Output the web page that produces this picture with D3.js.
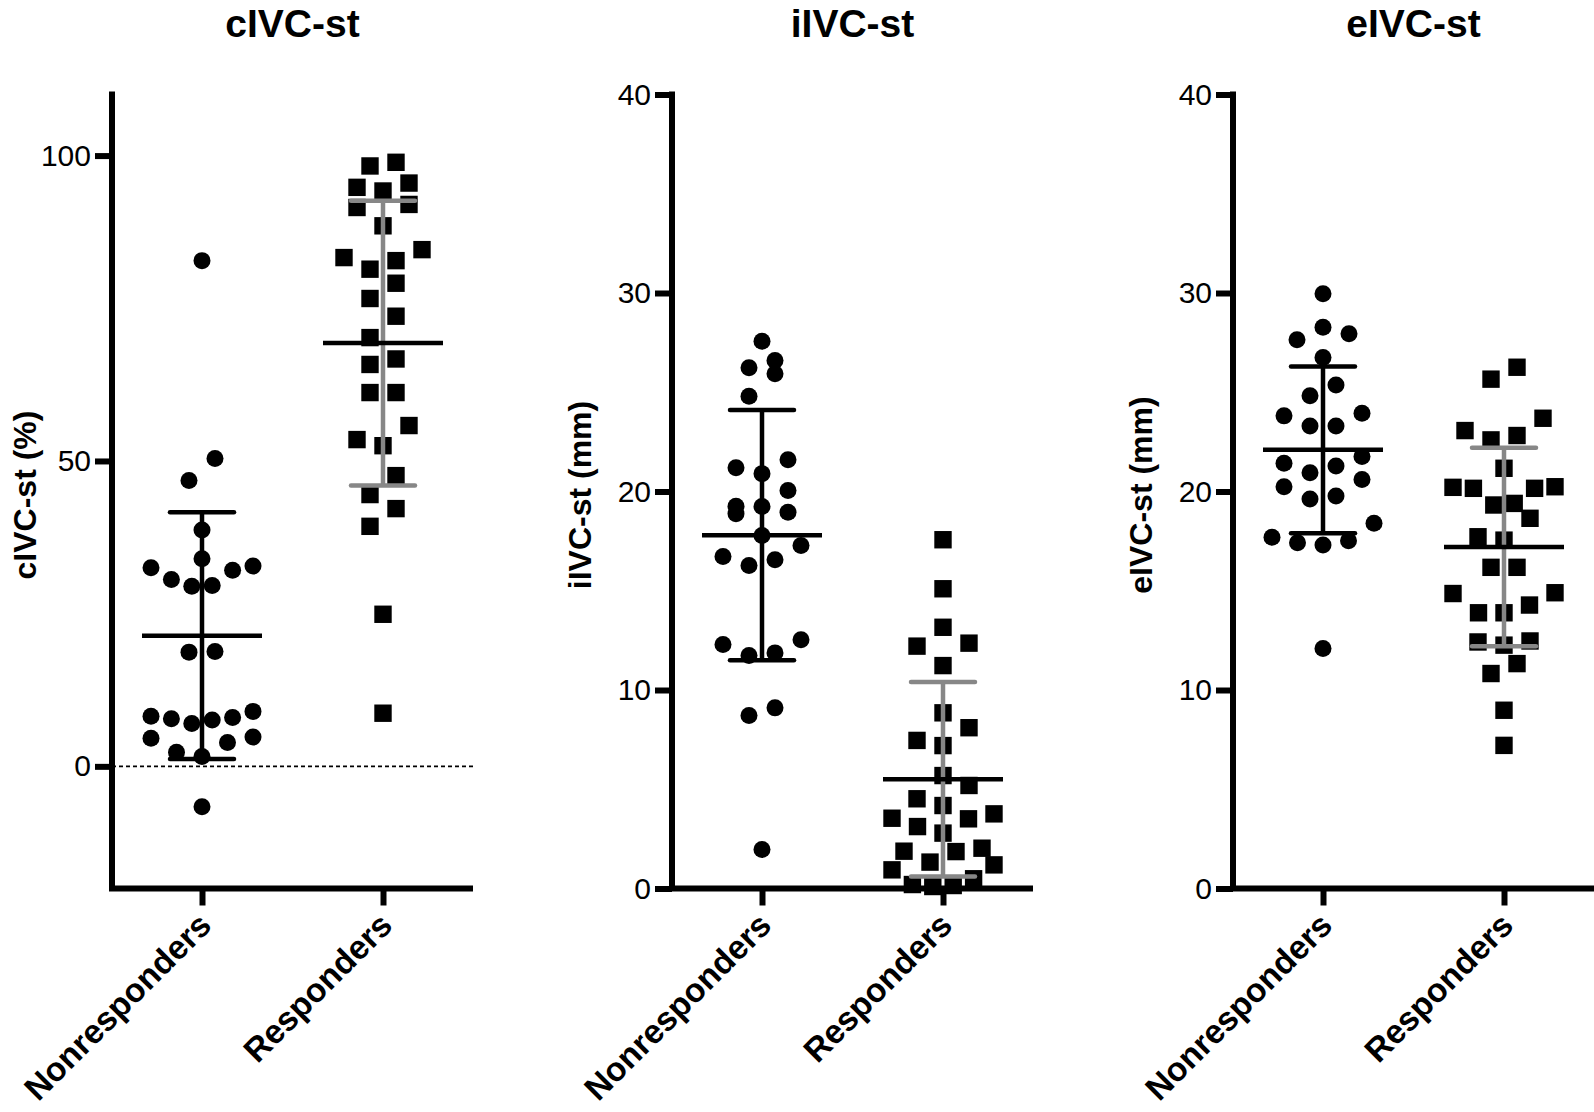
<!DOCTYPE html>
<html>
<head>
<meta charset="utf-8">
<script src="https://cdn.jsdelivr.net/npm/d3@7"></script>
<style>
  html, body { margin: 0; padding: 0; background: #fff; }
  svg { display: block; }
  text { font-family: "Liberation Sans", Arial, Helvetica, sans-serif; fill: #000; }
</style>
</head>
<body>
<svg id="chart" width="1594" height="1112"></svg>
<script>
// ---------------- data ----------------
const categories = ["Nonresponders", "Responders"];
const panelTitles = ["cIVC-st", "iIVC-st", "eIVC-st"];
const yAxisTitles = ["cIVC-st (%)", "iIVC-st (mm)", "eIVC-st (mm)"];

const cTicks = [0, 50, 100];
const iTicks = [0, 10, 20, 30, 40];
const eTicks = [0, 10, 20, 30, 40];

const cDomain = [-20, 110];
const iDomain = [0, 40];
const eDomain = [0, 40];

// cIVC-st (%)
const cNonresponders = [82.8, 50.4, 46.8, 38.7, 34.0, 32.8, 32.5, 32.1, 30.6, 29.6, 29.5,
  18.8, 18.7, 9.0, 8.2, 8.0, 7.8, 7.6, 7.0, 4.8, 4.6, 3.9, 2.3, 1.6, -6.6];
const cResponders = [98.9, 98.3, 95.5, 94.8, 94.2, 92.0, 91.5, 88.5, 84.6, 83.3, 82.8, 81.4,
  79.1, 76.6, 73.7, 70.2, 66.7, 65.8, 61.2, 61.2, 55.8, 53.5, 52.5, 47.6, 44.5, 42.2, 39.3, 24.9, 8.7];

// iIVC-st (mm)
const iNonresponders = [27.57, 26.6, 26.23, 25.93, 24.8, 21.6, 21.2, 20.9, 20.05, 19.26, 19.24,
  18.96, 18.88, 17.78, 17.28, 16.73, 16.56, 16.27, 12.53, 12.29, 11.87, 11.74, 9.10, 8.72, 1.96];
const iResponders = [17.57, 15.1, 13.16, 12.36, 12.21, 11.23, 8.85, 8.10, 7.46, 7.2, 5.69, 5.19,
  4.52, 4.18, 3.76, 3.54, 3.51, 3.12, 2.79, 2.03, 1.88, 1.86, 1.33, 1.19, 0.94, 0.49, 0.2, 0.15, 0.1];

// eIVC-st (mm)
const eNonresponders = [29.96, 28.28, 27.95, 27.64, 26.75, 25.37, 24.82, 23.94, 23.81, 23.3, 23.3,
  21.76, 21.42, 21.29, 20.95, 20.61, 20.24, 19.77, 19.62, 18.40, 17.69, 17.52, 17.42, 17.30, 12.09];
const eResponders = [26.26, 25.66, 23.69, 23.07, 22.82, 22.60, 21.17, 20.24, 20.21, 20.16, 20.16,
  19.40, 19.32, 18.65, 17.72, 17.55, 16.18, 16.18, 14.9, 14.86, 14.28, 13.89, 13.89, 12.47, 12.42,
  12.26, 11.33, 10.83, 8.98, 7.21];

// mean and SD shown by the bars
const cMeans = [21.4, 69.3], cSDs = [20.2, 23.3];
const iMeans = [17.8, 5.5],  iSDs = [6.3, 4.9];
const eMeans = [22.1, 17.2], eSDs = [4.2, 5.0];

const panels = [
  { title: panelTitles[0], yTitle: yAxisTitles[0], ticks: cTicks, domain: cDomain,
    groups: [cNonresponders, cResponders], means: cMeans, sds: cSDs, zeroLine: true },
  { title: panelTitles[1], yTitle: yAxisTitles[1], ticks: iTicks, domain: iDomain,
    groups: [iNonresponders, iResponders], means: iMeans, sds: iSDs, zeroLine: false },
  { title: panelTitles[2], yTitle: yAxisTitles[2], ticks: eTicks, domain: eDomain,
    groups: [eNonresponders, eResponders], means: eMeans, sds: eSDs, zeroLine: false }
];

// ---------------- layout ----------------
const svg = d3.select("#chart");
const axisXs = [112, 672, 1233];
const axisLen = 361;
const yTop = 94.5, yBottom = 888.5;
const yTitleX = [25, 580, 1141];
const barColors = ["#000000", "#878787"];
const markerR = 8.5, squareSide = 17.4;

// GraphPad-like scatter arrangement: points are grouped into rows from the
// bottom up; each row is spread symmetrically, lowest value in the middle.
function swarm(values, y, cx) {
  const pts = values.map(v => ({ v, py: y(v) })).sort((a, b) => b.py - a.py);
  const rows = [];
  let cur = null;
  const T = 24;
  pts.forEach(p => {
    if (!cur || cur.start - p.py > T) { cur = { start: p.py, items: [] }; rows.push(cur); }
    cur.items.push(p);
  });
  rows.forEach(r => {
    const n = r.items.length;
    const s = n > 1 ? Math.min(26, 102 / (n - 1)) : 0;
    r.items.sort((a, b) => a.v - b.v);
    r.items.forEach((p, i) => {
      let lane;
      if (n % 2) {
        const k = Math.ceil(i / 2);
        lane = i === 0 ? 0 : (i % 2 ? -k : k);
      } else {
        const k = Math.floor(i / 2) + 0.5;
        lane = i % 2 ? k : -k;
      }
      p.x = cx + lane * s;
    });
  });
  return pts;
}

panels.forEach((P, pi) => {
  const ax = axisXs[pi];
  const g = svg.append("g");
  const y = d3.scaleLinear().domain(P.domain).range([yBottom, yTop]);
  const x = d3.scalePoint().domain(categories).range([ax + 90, ax + 271]);

  // title
  g.append("text")
    .attr("x", ax + axisLen / 2).attr("y", 37)
    .attr("text-anchor", "middle")
    .style("font-size", "39px").style("font-weight", "bold")
    .text(P.title);

  // y-axis title
  g.append("text")
    .attr("transform", `translate(${yTitleX[pi]},${495}) rotate(-90)`)
    .attr("text-anchor", "middle").attr("dominant-baseline", "central")
    .style("font-size", "32px").style("font-weight", "bold")
    .text(P.yTitle);

  // zero reference line
  if (P.zeroLine) {
    g.append("line")
      .attr("x1", ax).attr("x2", ax + axisLen)
      .attr("y1", y(0)).attr("y2", y(0))
      .attr("stroke", "#000").attr("stroke-width", 1.6)
      .attr("stroke-dasharray", "4,3");
  }

  // y axis
  const yAxis = d3.axisLeft(y).tickValues(P.ticks).tickSize(17).tickPadding(4).tickFormat(d3.format("d"));
  const ya = g.append("g").attr("transform", `translate(${ax},0)`).call(yAxis);
  ya.select(".domain").attr("d", `M0,${yTop - 3}V${yBottom}`).attr("stroke", "#000").attr("stroke-width", 6);
  ya.selectAll(".tick line").attr("stroke", "#000").attr("stroke-width", 6);
  ya.selectAll(".tick text")
    .style("font-size", "30px")
    .style("font-family", '"Liberation Sans", Arial, sans-serif');

  // x axis
  const xAxis = d3.axisBottom(x).tickSize(17).tickFormat("");
  const xa = g.append("g").attr("transform", `translate(0,${yBottom})`).call(xAxis);
  xa.select(".domain").attr("d", `M${ax - 3},0H${Math.min(ax + axisLen, 1594)}`).attr("stroke", "#000").attr("stroke-width", 6);
  xa.selectAll(".tick line").attr("stroke", "#000").attr("stroke-width", 6);

  // category labels
  categories.forEach(c => {
    g.append("text")
      .attr("transform", `translate(${x(c) + 3},${919}) rotate(-45)`)
      .attr("text-anchor", "end").attr("dy", "0.35em")
      .style("font-size", "33.5px").style("font-weight", "bold")
      .text(c);
  });

  // points
  P.groups.forEach((vals, gi) => {
    const pts = swarm(vals, y, x(categories[gi]));
    if (gi === 0) {
      g.append("g").selectAll("circle").data(pts).join("circle")
        .attr("cx", d => d.x).attr("cy", d => d.py).attr("r", markerR).attr("fill", "#000");
    } else {
      g.append("g").selectAll("rect").data(pts).join("rect")
        .attr("x", d => d.x - squareSide / 2).attr("y", d => d.py - squareSide / 2)
        .attr("width", squareSide).attr("height", squareSide).attr("fill", "#000");
    }
  });

  // mean and SD bars
  categories.forEach((c, gi) => {
    const cx = x(c), m = P.means[gi], s = P.sds[gi];
    const col = barColors[gi];
    const bg = g.append("g").attr("stroke", col).attr("stroke-width", 4.5).attr("fill", "none");
    bg.append("line").attr("x1", cx).attr("x2", cx).attr("y1", y(m + s)).attr("y2", y(m - s));
    bg.append("line").attr("x1", cx - 32).attr("x2", cx + 32).attr("y1", y(m + s)).attr("y2", y(m + s)).attr("stroke-linecap", "round");
    bg.append("line").attr("x1", cx - 32).attr("x2", cx + 32).attr("y1", y(m - s)).attr("y2", y(m - s)).attr("stroke-linecap", "round");
    g.append("line").attr("x1", cx - 60).attr("x2", cx + 60).attr("y1", y(m)).attr("y2", y(m))
      .attr("stroke", "#000").attr("stroke-width", 4.5);
  });
});
</script>
</body>
</html>
